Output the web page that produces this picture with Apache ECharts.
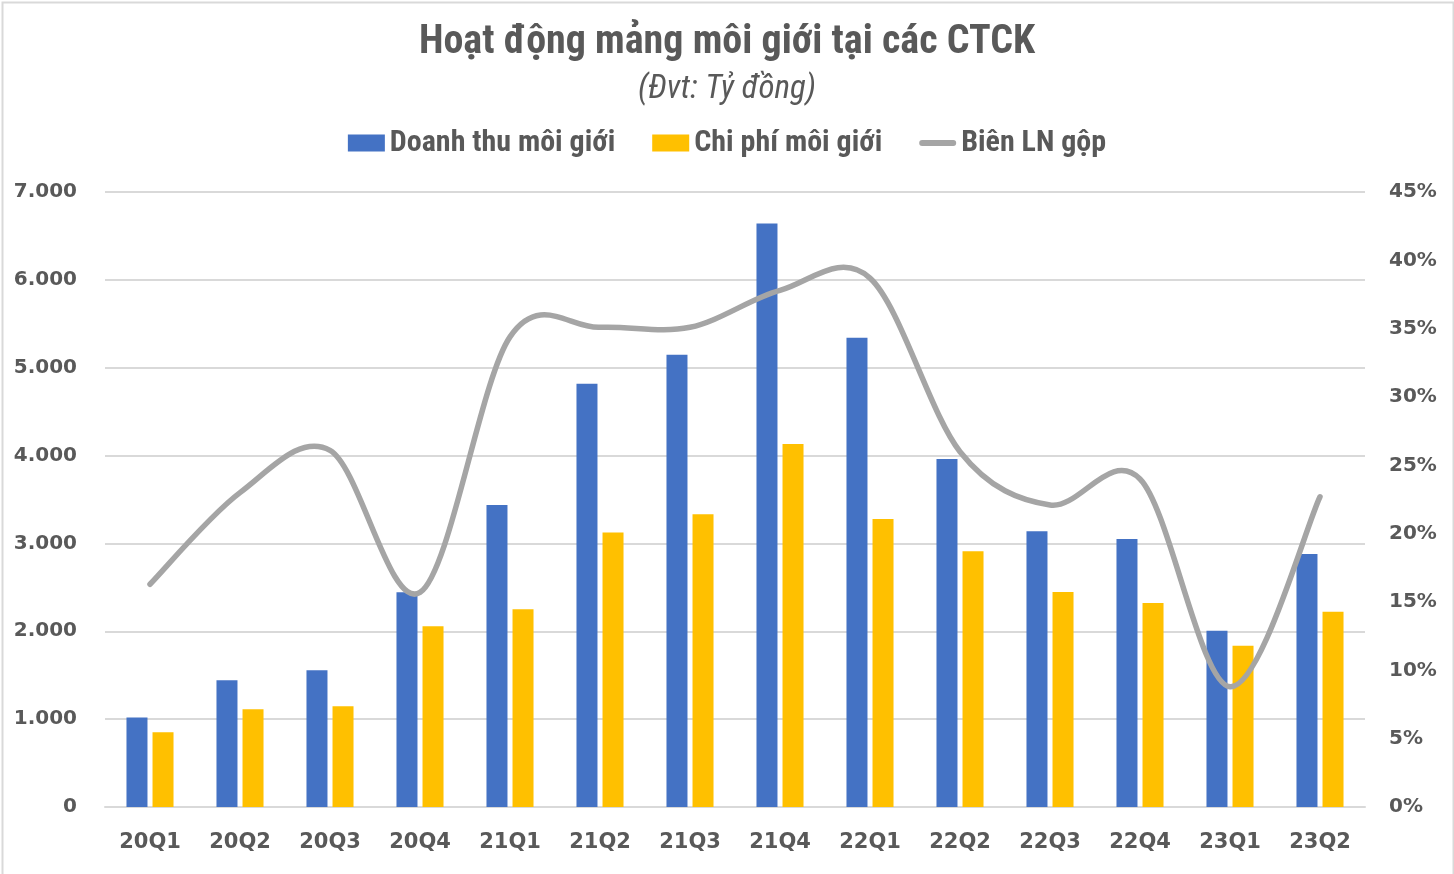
<!DOCTYPE html>
<html>
<head>
<meta charset="utf-8">
<script src="https://cdn.jsdelivr.net/npm/echarts@6/dist/echarts.min.js"></script>
<style>
html,body{margin:0;padding:0;background:#fff;}
#c{width:1454px;height:874px;}
</style>
</head>
<body>
<div id="c"></div>
<script>
const categories = ['20Q1','20Q2','20Q3','20Q4','21Q1','21Q2','21Q3','21Q4','22Q1','22Q2','22Q3','22Q4','23Q1','23Q2'];
const revenue = [1020, 1443, 1557, 2445, 3436, 4817, 5147, 6641, 5341, 3960, 3140, 3050, 2005, 2879];
const cost = [851, 1113, 1147, 2058, 2252, 3124, 3332, 4131, 3278, 2910, 2448, 2323, 1835, 2221];
const margin = [16.3, 23.0, 26.1, 15.7, 34.4, 35.1, 35.1, 37.8, 38.7, 26.0, 22.1, 24.0, 8.8, 22.7];
const leftTicks = [0, 1000, 2000, 3000, 4000, 5000, 6000, 7000];
const rightTicks = [0, 5, 10, 15, 20, 25, 30, 35, 40, 45];

const txt = '#595959';
const titleFont = '"Liberation Sans Narrow", "Roboto Condensed", "Open Sans", sans-serif';
const axisFont = '"DejaVu Sans", Verdana, sans-serif';

// Excel-style smoothed line (Catmull-Rom) drawn through the library's coordinate system
function renderSmoothLine(params, api) {
  if (params.dataIndex !== 0) return null;
  const pts = margin.map((v, i) => api.coord([i, v]));
  const n = pts.length;
  let d = 'M' + pts[0][0] + ',' + pts[0][1];
  for (let i = 0; i < n - 1; i++) {
    const p0 = pts[Math.max(i - 1, 0)], p1 = pts[i], p2 = pts[i + 1], p3 = pts[Math.min(i + 2, n - 1)];
    const c1x = p1[0] + (p2[0] - p0[0]) / 6, c1y = p1[1] + (p2[1] - p0[1]) / 6;
    const c2x = p2[0] - (p3[0] - p1[0]) / 6, c2y = p2[1] - (p3[1] - p1[1]) / 6;
    d += ' C' + c1x + ',' + c1y + ' ' + c2x + ',' + c2y + ' ' + p2[0] + ',' + p2[1];
  }
  return {
    type: 'path',
    shape: {pathData: d},
    style: {fill: 'none', stroke: '#a5a5a5', lineWidth: 5.5, lineCap: 'round', lineJoin: 'round'}
  };
}

const chart = echarts.init(document.getElementById('c'));
chart.setOption({
  animation: false,
  backgroundColor: '#fff',
  graphic: [{
    type: 'rect', left: 0, top: 0, z: 100, silent: true,
    shape: {x: 1, y: 1, width: 1451, height: 880},
    style: {fill: 'none', stroke: '#d9d9d9', lineWidth: 2}
  }],
  title: [{
    text: 'Hoạt động mảng môi giới tại các CTCK',
    left: 'center', top: 18,
    textStyle: {fontFamily: titleFont, fontWeight: 'bold', fontSize: 40, color: txt}
  }, {
    text: '(Đvt: Tỷ đồng)',
    left: 'center', top: 68,
    textStyle: {fontFamily: titleFont, fontStyle: 'italic', fontWeight: 'normal', fontSize: 33, color: txt}
  }],
  legend: {
    top: 123, left: 'center',
    itemGap: 37,
    itemWidth: 37, itemHeight: 17,
    textStyle: {fontFamily: titleFont, fontWeight: 'bold', fontSize: 30, color: txt},
    data: [
      {name: 'Doanh thu môi giới', icon: 'rect'},
      {name: 'Chi phí môi giới', icon: 'rect'},
      {name: 'Biên LN gộp', icon: 'path://M3,0 L35,0 A3,3 0 0 1 35,6 L3,6 A3,3 0 0 1 3,0 Z'}
    ]
  },
  grid: {left: 105, right: 89, top: 192, bottom: 67, containLabel: false},
  xAxis: {
    type: 'category', data: categories,
    axisLine: {lineStyle: {color: '#d9d9d9', width: 2}},
    axisTick: {show: false},
    axisLabel: {fontFamily: axisFont, fontWeight: 'bold', fontSize: 21, color: txt, margin: 25}
  },
  yAxis: [{
    type: 'value', min: 0, max: 7000, interval: 1000,
    axisLine: {show: false}, axisTick: {show: false},
    splitLine: {lineStyle: {color: '#d9d9d9', width: 2}},
    axisLabel: {fontFamily: axisFont, fontWeight: 'bold', fontSize: 20, color: txt, margin: 28,
      formatter: v => leftTicks.includes(v) ? String(v).replace(/\B(?=(\d{3})+(?!\d))/g, '.') : ''}
  }, {
    type: 'value', min: 0, max: 45, interval: 5,
    axisLine: {show: false}, axisTick: {show: false},
    splitLine: {show: false},
    axisLabel: {fontFamily: axisFont, fontWeight: 'bold', fontSize: 20, color: txt, margin: 24,
      formatter: v => rightTicks.includes(v) ? v + '%' : ''}
  }],
  series: [{
    name: 'Doanh thu môi giới', type: 'bar', data: revenue,
    barWidth: 21, barGap: '24%', z: 2,
    itemStyle: {color: '#4472c4'}
  }, {
    name: 'Chi phí môi giới', type: 'bar', data: cost,
    barWidth: 21, z: 2,
    itemStyle: {color: '#ffc000'}
  }, {
    name: 'Biên LN gộp', type: 'custom', yAxisIndex: 1,
    data: margin.map((v, i) => [i, v]),
    encode: {x: 0, y: 1},
    renderItem: renderSmoothLine,
    clip: false, z: 5,
    itemStyle: {color: '#a5a5a5'}
  }]
});
</script>
</body>
</html>
